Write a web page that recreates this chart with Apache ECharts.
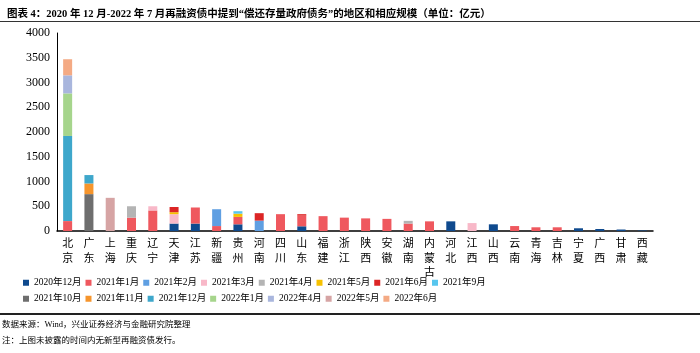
<!DOCTYPE html>
<html>
<head>
<meta charset="utf-8">
<script src="https://cdn.jsdelivr.net/npm/echarts@6/dist/echarts.min.js"></script>
<style>
  html, body { margin: 0; padding: 0; background: #fff; }
  #chart { width: 700px; height: 353px; }
</style>
</head>
<body>
<div id="chart"></div>
<script>
// 地区（按总规模排序）
const regions = ["北京", "广东", "上海", "重庆", "辽宁", "天津", "江苏", "新疆", "贵州", "河南",
  "四川", "山东", "福建", "浙江", "陕西", "安徽", "湖南", "内蒙古", "河北", "江西",
  "山西", "云南", "青海", "吉林", "宁夏", "广西", "甘肃", "西藏"];

// 各月份发行规模（亿元），顺序同 regions
const m202012 = [0, 0, 0, 0, 0, 150, 150, 0, 135, 0, 0, 95, 0, 0, 0, 0, 0, 0, 195, 0, 135, 0, 0, 0, 55, 40, 30, 10];
const m202101 = [200, 0, 0, 270, 415, 0, 325, 100, 150, 0, 340, 215, 300, 270, 255, 245, 150, 195, 0, 0, 0, 100, 75, 75, 0, 0, 0, 0];
const m202102 = [0, 0, 0, 0, 0, 0, 0, 340, 0, 210, 0, 0, 0, 0, 0, 0, 0, 0, 0, 0, 0, 0, 0, 0, 0, 0, 0, 0];
const m202103 = [0, 0, 0, 0, 85, 190, 0, 0, 0, 0, 0, 0, 0, 0, 0, 0, 0, 0, 0, 160, 0, 0, 0, 0, 0, 0, 0, 0];
const m202104 = [0, 0, 0, 230, 0, 0, 0, 0, 0, 0, 0, 0, 0, 0, 0, 0, 55, 0, 0, 0, 0, 0, 0, 0, 0, 0, 0, 0];
const m202105 = [0, 0, 0, 0, 0, 40, 0, 0, 65, 0, 0, 0, 0, 0, 0, 0, 0, 0, 0, 0, 0, 0, 0, 0, 0, 0, 0, 0];
const m202106 = [0, 0, 0, 0, 0, 105, 0, 0, 0, 150, 0, 30, 0, 0, 0, 0, 0, 0, 0, 0, 0, 0, 0, 0, 0, 0, 0, 0];
const m202109 = [0, 0, 0, 0, 0, 0, 0, 0, 50, 0, 0, 0, 0, 0, 0, 0, 0, 0, 0, 0, 0, 0, 0, 0, 0, 0, 0, 0];
const m202110 = [0, 745, 0, 0, 0, 0, 0, 0, 0, 0, 0, 0, 0, 0, 0, 0, 0, 0, 0, 0, 0, 0, 0, 0, 0, 0, 0, 0];
const m202111 = [0, 215, 0, 0, 0, 0, 0, 0, 0, 0, 0, 0, 0, 0, 0, 0, 0, 0, 0, 0, 0, 0, 0, 0, 0, 0, 0, 0];
const m202112 = [1720, 170, 0, 0, 0, 0, 0, 0, 0, 0, 0, 0, 0, 0, 0, 0, 0, 0, 0, 0, 0, 0, 0, 0, 0, 0, 0, 0];
const m202201 = [860, 0, 0, 0, 0, 0, 0, 0, 0, 0, 0, 0, 0, 0, 0, 0, 0, 0, 0, 0, 0, 0, 0, 0, 0, 0, 0, 0];
const m202204 = [365, 0, 0, 0, 0, 0, 0, 0, 0, 0, 0, 0, 0, 0, 0, 0, 0, 0, 0, 0, 0, 0, 0, 0, 0, 0, 0, 0];
const m202205 = [0, 0, 670, 0, 0, 0, 0, 0, 0, 0, 0, 0, 0, 0, 0, 0, 0, 0, 0, 0, 0, 0, 0, 0, 0, 0, 0, 0];
const m202206 = [325, 0, 0, 0, 0, 0, 0, 0, 0, 0, 0, 0, 0, 0, 0, 0, 0, 0, 0, 0, 0, 0, 0, 0, 0, 0, 0, 0];

const seriesNames = ["2020年12月", "2021年1月", "2021年2月", "2021年3月", "2021年4月", "2021年5月",
  "2021年6月", "2021年9月", "2021年10月", "2021年11月", "2021年12月", "2022年1月",
  "2022年4月", "2022年5月", "2022年6月"];
const seriesData = [m202012, m202101, m202102, m202103, m202104, m202105, m202106, m202109,
  m202110, m202111, m202112, m202201, m202204, m202205, m202206];
const seriesColors = ["#0f4a8e", "#ef585e", "#5f9fe2", "#f8b8c8", "#b4b4b4", "#f6c100",
  "#dc2525", "#58c6ee", "#6e6e6e", "#f6952c", "#3ea7cb", "#a6d58c",
  "#a9b6dd", "#d6a4a4", "#f4aa84"];

const yTicks = [0, 500, 1000, 1500, 2000, 2500, 3000, 3500, 4000];

const serif = "'Liberation Serif', 'Times New Roman', 'Noto Sans CJK SC', serif";

const chart = echarts.init(document.getElementById("chart"));

const legendText = { fontFamily: serif, fontSize: 9.5, color: "#000" };

const option = {
  animation: false,
  title: {
    text: "图表 4：2020 年 12 月-2022 年 7 月再融资债中提到“偿还存量政府债务”的地区和相应规模（单位：亿元）",
    left: 2,
    top: 4,
    textStyle: { fontFamily: serif, fontSize: 10.5, fontWeight: "bold", color: "#000" },
  },
  grid: { left: 57, right: 47, top: 33, bottom: 122 },
  legend: [
    {
      data: seriesNames.slice(0, 8),
      left: 18,
      top: 273,
      icon: "rect",
      itemWidth: 6,
      itemHeight: 6,
      itemGap: 4,
      textStyle: legendText,
    },
    {
      data: seriesNames.slice(8),
      left: 18,
      top: 289,
      icon: "rect",
      itemWidth: 6,
      itemHeight: 6,
      itemGap: 4,
      textStyle: legendText,
    },
  ],
  xAxis: {
    type: "category",
    data: regions,
    axisLine: { lineStyle: { color: "#000", width: 1.5 } },
    axisTick: { show: false },
    axisLabel: {
      interval: 0,
      margin: 6,
      fontFamily: serif,
      fontSize: 11,
      lineHeight: 14.5,
      color: "#000",
      formatter: (v) => v.split("").join("\n"),
    },
  },
  yAxis: {
    type: "value",
    min: yTicks[0],
    max: yTicks[yTicks.length - 1],
    interval: 500,
    axisLine: { show: true, lineStyle: { color: "#000", width: 1 } },
    axisTick: { show: false },
    splitLine: { show: false },
    axisLabel: {
      fontFamily: serif,
      fontSize: 12,
      color: "#000",
      margin: 7,
      formatter: (v) => String(v),
    },
  },
  graphic: [
    {
      type: "line",
      shape: { x1: 0, y1: 21.5, x2: 700, y2: 21.5 },
      style: { stroke: "#333", lineWidth: 1 },
    },
    {
      type: "line",
      shape: { x1: 0, y1: 314, x2: 700, y2: 314 },
      style: { stroke: "#222", lineWidth: 2 },
    },
    {
      type: "text",
      left: 2,
      top: 321,
      style: { text: "数据来源：Wind，兴业证券经济与金融研究院整理", font: "8.5px " + serif, fill: "#000" },
    },
    {
      type: "text",
      left: 2,
      top: 337,
      style: { text: "注：上图未披露的时间内无新型再融资债发行。", font: "8.5px " + serif, fill: "#000" },
    },
  ],
  series: seriesNames.map((name, i) => ({
    name,
    type: "bar",
    stack: "total",
    barWidth: 9,
    itemStyle: { color: seriesColors[i] },
    data: seriesData[i],
  })),
};

chart.setOption(option);
</script>
</body>
</html>
